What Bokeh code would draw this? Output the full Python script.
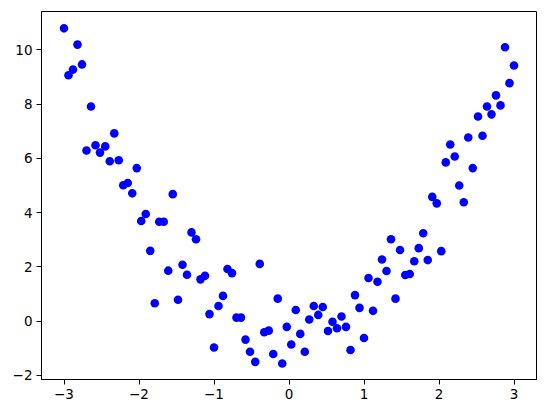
from bokeh.plotting import figure
from bokeh.models import FixedTicker, ColumnDataSource, Range1d
from bokeh.embed import file_html
from bokeh.resources import INLINE

x_vals = [-3.00, -2.94, -2.88, -2.82, -2.76, -2.70, -2.64, -2.58, -2.52, -2.45,
          -2.39, -2.33, -2.27, -2.21, -2.15, -2.09, -2.03, -1.97, -1.91, -1.85,
          -1.79, -1.73, -1.67, -1.61, -1.55, -1.48, -1.42, -1.36, -1.30, -1.24,
          -1.18, -1.12, -1.06, -1.00, -0.94, -0.88, -0.82, -0.76, -0.70, -0.64,
          -0.58, -0.52, -0.45, -0.39, -0.33, -0.27, -0.21, -0.15, -0.09, -0.03,
          0.03, 0.09, 0.15, 0.21, 0.27, 0.33, 0.39, 0.45, 0.52, 0.58,
          0.64, 0.70, 0.76, 0.82, 0.88, 0.94, 1.00, 1.06, 1.12, 1.18,
          1.24, 1.30, 1.36, 1.42, 1.48, 1.55, 1.61, 1.67, 1.73, 1.79,
          1.85, 1.91, 1.97, 2.03, 2.09, 2.15, 2.21, 2.27, 2.33, 2.39,
          2.45, 2.52, 2.58, 2.64, 2.70, 2.76, 2.82, 2.88, 2.94, 3.00]

y_vals = [10.79, 9.06, 9.27, 10.19, 9.46, 6.29, 7.91, 6.48, 6.21, 6.44,
          5.89, 6.92, 5.93, 5.01, 5.09, 4.71, 5.64, 3.69, 3.95, 2.59,
          0.66, 3.66, 3.66, 1.86, 4.68, 0.79, 2.08, 1.71, 3.27, 3.02,
          1.54, 1.67, 0.26, -0.97, 0.56, 0.93, 1.92, 1.77, 0.13, 0.13,
          -0.68, -1.13, -1.50, 2.11, -0.41, -0.35, -1.21, 0.83, -1.56, -0.21,
          -0.86, 0.41, -0.47, -1.13, 0.06, 0.56, 0.23, 0.52, -0.36, -0.02,
          -0.26, 0.17, -0.21, -1.06, 0.96, 0.49, -0.62, 1.59, 0.38, 1.45,
          2.27, 1.85, 3.02, 0.83, 2.62, 1.70, 1.74, 2.21, 2.69, 3.24,
          2.25, 4.58, 4.34, 2.58, 5.85, 6.51, 6.07, 5.00, 4.38, 6.77,
          5.64, 7.54, 6.83, 7.91, 7.62, 8.32, 7.95, 10.09, 8.77, 9.42]

x_ticks = [-3, -2, -1, 0, 1, 2, 3]
x_tick_labels = ["\u22123", "\u22122", "\u22121", "0", "1", "2", "3"]
y_ticks = [-2, 0, 2, 4, 6, 8, 10]
y_tick_labels = ["\u22122", "0", "2", "4", "6", "8", "10"]

source = ColumnDataSource(dict(x=x_vals, y=y_vals))

p = figure(width=538, height=405, output_backend="svg", toolbar_location=None,
           x_range=Range1d(-3.3, 3.3), y_range=Range1d(-2.15, 11.41),
           min_border_left=41, min_border_right=2, min_border_top=11,
           min_border_bottom=26)

p.scatter("x", "y", source=source, size=8.6, fill_color="#0000ff",
          line_color="#0000ff", line_width=0)

p.xgrid.visible = False
p.ygrid.visible = False
p.outline_line_color = "black"
p.outline_line_width = 1
p.background_fill_color = "white"
p.border_fill_color = "white"

for ax, ticks, labels in ((p.xaxis[0], x_ticks, x_tick_labels),
                          (p.yaxis[0], y_ticks, y_tick_labels)):
    ax.ticker = FixedTicker(ticks=ticks)
    ax.major_label_overrides = {t: l for t, l in zip(ticks, labels)}
    ax.minor_tick_line_color = None
    ax.major_tick_in = 0
    ax.major_tick_out = 5
    ax.major_tick_line_color = "black"
    ax.axis_line_color = "black"
    ax.major_label_text_font = "DejaVu Sans"
    ax.major_label_text_font_size = "13.5px"
    ax.major_label_text_color = "black"
    ax.major_label_standoff = 4

open("out.html", "w").write(file_html(p, INLINE))
